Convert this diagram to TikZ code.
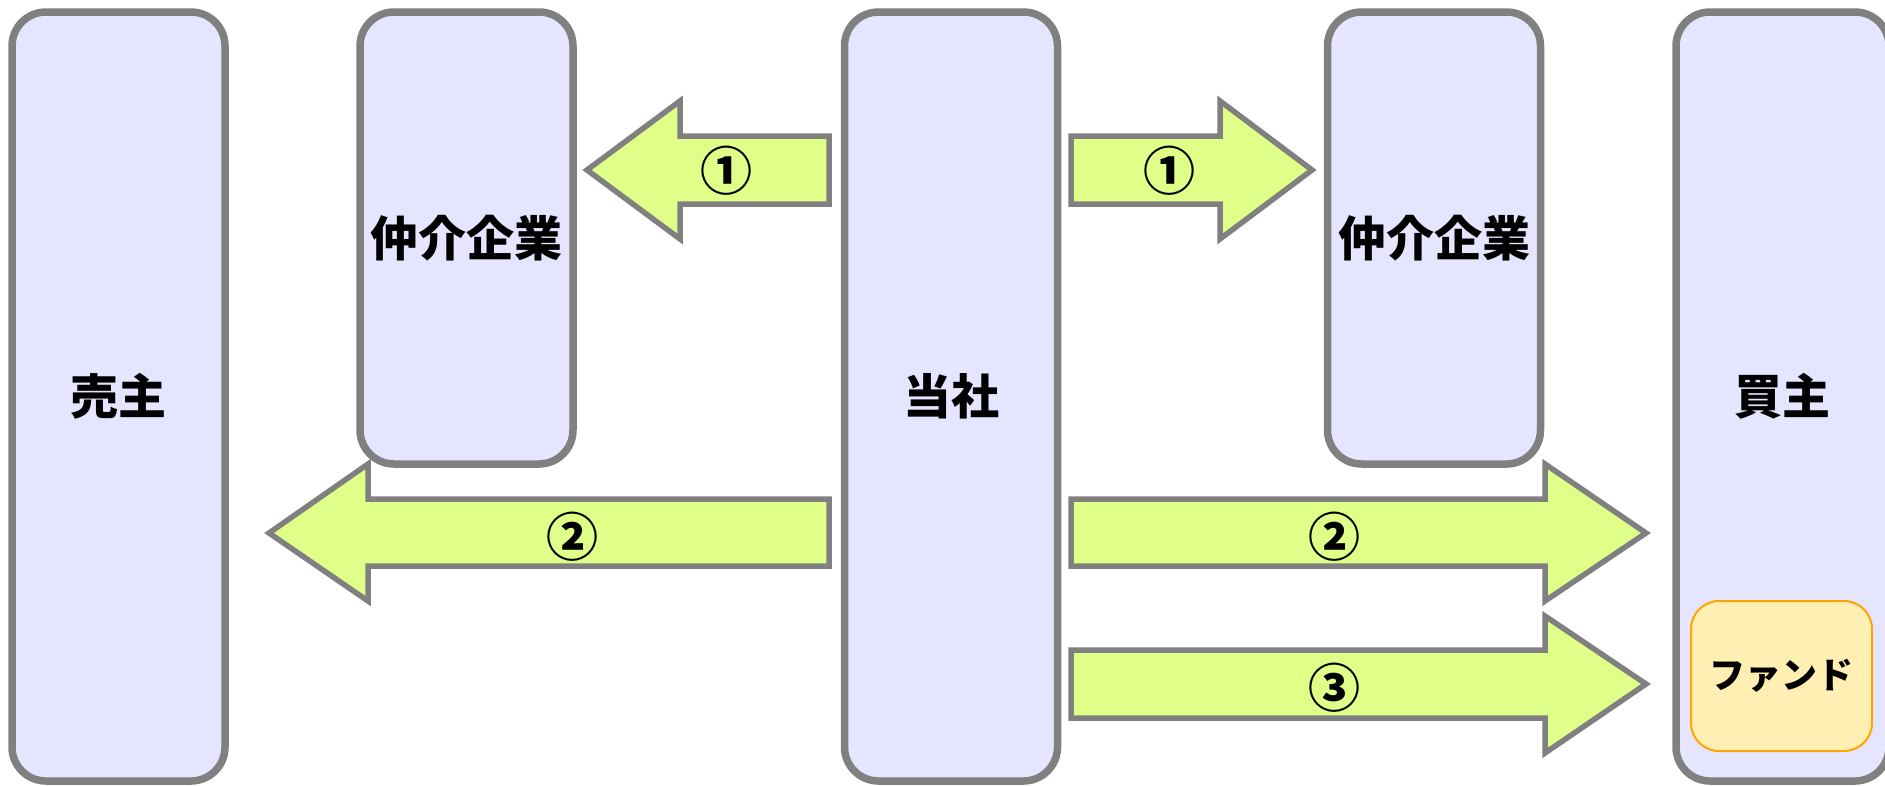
\documentclass[tikz,border=0pt]{standalone}
\usepackage{fontspec}
\newfontfamily\jp{Noto Sans CJK JP}
\definecolor{boxfill}{HTML}{E5E5FF}
\definecolor{boxgray}{HTML}{808080}
\definecolor{arrowfill}{HTML}{DFFF88}
\definecolor{fundfill}{HTML}{FFEFB3}
\definecolor{fundline}{HTML}{FFA500}
\begin{document}
\begin{tikzpicture}[x=1pt,y=-1pt,
  party/.style={draw=boxgray, line width=7.5pt, fill=boxfill, rounded corners=34pt,
    minimum width=213pt, inner sep=0pt, font=\jp\bfseries\fontsize{48}{48}\selectfont},
  flow/.style={draw=boxgray, line width=5.5pt, fill=arrowfill, line join=miter},
  num/.style={inner sep=0pt, font=\jp\bfseries\fontsize{52}{52}\selectfont},
  fund/.style={draw=fundline, line width=2pt, fill=fundfill, rounded corners=28pt,
    minimum width=181pt, minimum height=150pt, inner sep=0pt,
    font=\jp\bfseries\fontsize{36}{36}\selectfont}]
\useasboundingbox (0,0) rectangle (1885,785);

\node[party, minimum height=769pt] (seller) at (118.5,396.5) {売主};
\node[party, minimum height=452pt] (brokerL) at (466.5,238) {仲介企業};
\node[party, minimum height=769pt] (us) at (951,396.5) {当社};
\node[party, minimum height=452pt] (brokerR) at (1434,238) {仲介企業};
\node[party, minimum height=769pt] (buyer) at (1782.5,396.5) {買主};
\node[fund] (fund) at (1781.5,676) {ファンド};

% arrow 1 left
\draw[flow] (829,136) -- (680,136) -- (680,101) -- (587,170) -- (680,239) -- (680,204) -- (829,204) -- cycle;
\node[num] (n1l) at (726,171) {①};
% arrow 1 right
\draw[flow] (1071,136) -- (1220,136) -- (1220,101) -- (1312,170) -- (1220,239) -- (1220,204) -- (1071,204) -- cycle;
\node[num] (n1r) at (1169,171) {①};
% arrow 2 left
\draw[flow] (829,499) -- (368,499) -- (368,464) -- (269,533) -- (368,601) -- (368,566) -- (829,566) -- cycle;
\node[num] (n2l) at (572,537) {②};
% arrow 2 right
\draw[flow] (1071,499) -- (1545,499) -- (1545,464) -- (1646,533) -- (1545,601) -- (1545,566) -- (1071,566) -- cycle;
\node[num] (n2r) at (1334,537) {②};
% arrow 3 right
\draw[flow] (1071,650) -- (1545,650) -- (1545,616) -- (1646,684) -- (1545,753) -- (1545,718) -- (1071,718) -- cycle;
\node[num] (n3) at (1334,688) {③};
\end{tikzpicture}
\end{document}
